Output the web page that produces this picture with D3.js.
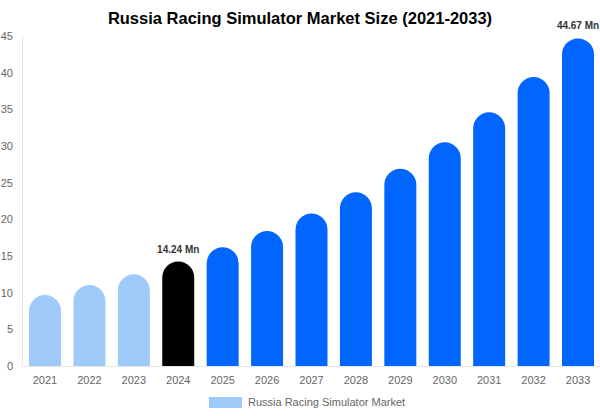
<!DOCTYPE html>
<html>
<head>
<meta charset="utf-8">
<script src="https://cdn.jsdelivr.net/npm/d3@7"></script>
<style>
  body { margin: 0; background: #fff; font-family: "Liberation Sans", Arial, sans-serif; }
</style>
</head>
<body>
<div id="chart"></div>
<script>
const years = ["2021", "2022", "2023", "2024", "2025", "2026", "2027", "2028", "2029", "2030", "2031", "2032", "2033"];
const values = [9.68, 11.05, 12.5, 14.24, 16.2, 18.4, 20.8, 23.7, 26.9, 30.5, 34.6, 39.4, 44.67];
const barKind = ["past", "past", "past", "base", "fore", "fore", "fore", "fore", "fore", "fore", "fore", "fore", "fore"];
const yTicks = [0, 5, 10, 15, 20, 25, 30, 35, 40, 45];
const labels = { "2024": "14.24 Mn", "2033": "44.67 Mn" };

const colors = { past: "#9fcbfb", base: "#000000", fore: "#0066ff" };

const width = 600, height = 416;
const margin = { top: 36, right: 0, bottom: 50, left: 23 };

const svg = d3.select("#chart").append("svg")
  .attr("width", width)
  .attr("height", height);

const x = d3.scaleBand()
  .domain(years)
  .range([margin.left, width - margin.right])
  .paddingInner(0.28)
  .paddingOuter(0.135);

const y = d3.scaleLinear()
  .domain([0, 45])
  .range([height - margin.bottom, margin.top]);

// title
svg.append("text")
  .attr("x", 300)
  .attr("y", 24)
  .attr("text-anchor", "middle")
  .style("font-size", "16.5px")
  .style("font-weight", "bold")
  .style("fill", "#000")
  .text("Russia Racing Simulator Market Size (2021-2033)");

// y axis line + baseline
svg.append("line")
  .attr("x1", margin.left - 0.5).attr("x2", margin.left - 0.5)
  .attr("y1", margin.top).attr("y2", y(0))
  .attr("stroke", "#e6e6e6");

svg.append("line")
  .attr("x1", margin.left).attr("x2", width)
  .attr("y1", y(0) + 0.5).attr("y2", y(0) + 0.5)
  .attr("stroke", "#e6e6e6");

const yAxis = svg.append("g")
  .attr("transform", `translate(${margin.left},0)`)
  .call(d3.axisLeft(y).tickValues(yTicks).tickSize(0).tickPadding(10));
yAxis.select(".domain").remove();
yAxis.selectAll("text")
  .attr("x", -10)
  .style("text-anchor", "end")
  .style("font-size", "11px")
  .style("font-family", "Liberation Sans, Arial, sans-serif")
  .style("fill", "#666");

const xAxis = svg.append("g")
  .attr("transform", `translate(0,${y(0)})`)
  .call(d3.axisBottom(x).tickSize(0).tickPadding(10));
xAxis.select(".domain").remove();
xAxis.selectAll("text")
  .style("font-size", "11px")
  .style("font-family", "Liberation Sans, Arial, sans-serif")
  .style("fill", "#666");

// rounded-top bars
const bw = x.bandwidth();
const r = bw / 2;
function barPath(d, i) {
  const x0 = x(years[i]);
  const yTop = y(d);
  const yBot = y(0);
  return `M${x0},${yBot} L${x0},${yTop + r} A${r},${r} 0 0 1 ${x0 + bw},${yTop + r} L${x0 + bw},${yBot} Z`;
}

svg.append("g")
  .selectAll("path")
  .data(values)
  .join("path")
  .attr("d", (d, i) => barPath(d, i))
  .attr("fill", (d, i) => colors[barKind[i]]);

// value labels
svg.append("g")
  .selectAll("text")
  .data(years.filter(yr => labels[yr]))
  .join("text")
  .attr("x", yr => x(yr) + bw / 2)
  .attr("y", yr => y(values[years.indexOf(yr)]) - 9)
  .attr("text-anchor", "middle")
  .style("font-size", "10px")
  .style("font-weight", "bold")
  .style("fill", "#333")
  .text(yr => labels[yr]);

// legend
const legend = svg.append("g").attr("transform", "translate(209,397)");
legend.append("rect")
  .attr("width", 33).attr("height", 11)
  .attr("fill", colors.past);
legend.append("text")
  .attr("x", 39).attr("y", 9)
  .style("font-size", "11px")
  .style("fill", "#666")
  .text("Russia Racing Simulator Market");
</script>
</body>
</html>
